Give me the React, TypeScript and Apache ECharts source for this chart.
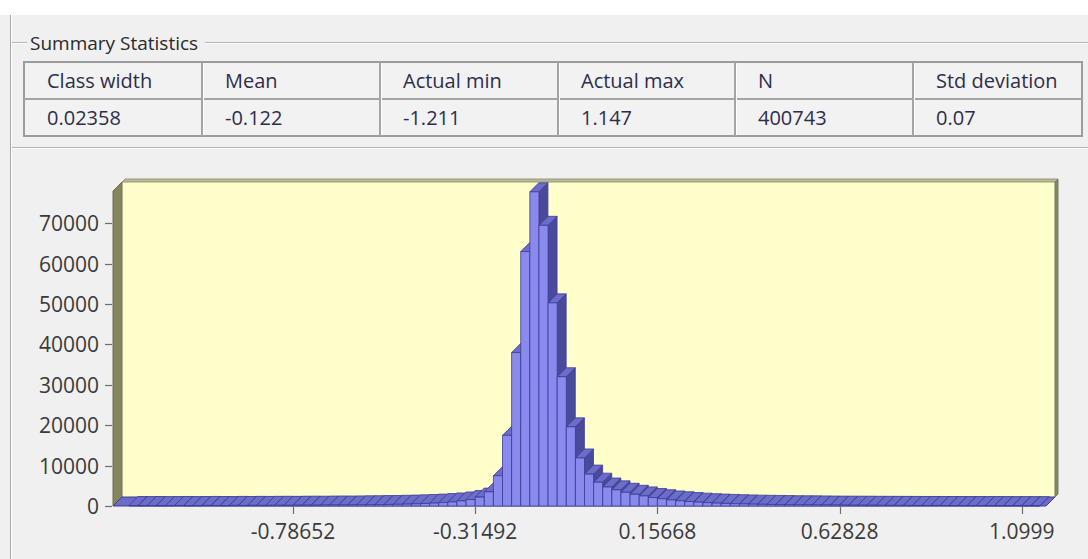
import { useEffect, useRef } from "react";
import * as echarts from "echarts";

// ---------- data ----------
const groupTitle = "Summary Statistics";
const statHeaders = ["Class width", "Mean", "Actual min", "Actual max", "N", "Std deviation"];
const statValues = ["0.02358", "-0.122", "-1.211", "1.147", "400743", "0.07"];

const binStart = -1.211;
const classWidth = 0.02358;
// histogram counts, 100 classes
const leftTail = [
  120, 90, 110, 80, 100, 130, 90, 110, 140, 120,
  100, 150, 130, 160, 140, 170, 180, 160, 190, 210,
  200, 230, 250, 240, 270, 300, 320, 350, 380, 420,
];
const core = [
  470, 540, 620, 720, 850, 1000, 1250, 1600, 2200, 3500,
  7500, 17500, 38000, 63000, 77800, 69500, 50300, 32000, 19600, 11900,
  7900, 5900, 4700, 4000, 3400, 2900, 2500, 2100, 1800, 1500, 1300,
];
const rightTail = [
  1100, 950, 820, 720, 640, 570, 510, 460, 420, 380,
  350, 320, 300, 280, 260, 240, 220, 210, 200, 190,
  180, 170, 160, 150, 140, 135, 130, 125, 120, 115,
  110, 105, 100, 95, 90, 85, 80, 75, 70,
];
const counts = [...leftTail, ...core, ...rightTail];

const xTickLabels = ["-0.78652", "-0.31492", "0.15668", "0.62828", "1.0999"];
const yTickValues = [0, 10000, 20000, 30000, 40000, 50000, 60000, 70000];
const yMax = 78000;
const xMin = -1.2524;
const xMax = 1.1625;

// ---------- layout / style ----------
const GRID = { left: 113, top: 191, width: 933, height: 315 };
const DEPTH = 9;
const TICK_LEN = 7;
const TABLE_X = [24, 202, 380, 558, 735, 913, 1082];
const TABLE_Y = [62, 99, 136];
const FONT = '"Open Sans", "Liberation Sans", Arial, sans-serif';
const FRONT = "#8a8aee";
const SIDE = "#4a4a9c";
const TOP = "#6c6cca";
const EDGE = "#3c3c92";
const TICK = "#6e6e6e";

export default function App() {
  const ref = useRef<HTMLDivElement>(null);

  useEffect(() => {
    if (!ref.current) return;
    const chart = echarts.init(ref.current, undefined, { renderer: "svg" });

    const xTickValues = xTickLabels.map(Number);
    const data = counts.map((c, i) => [
      binStart + i * classWidth,
      binStart + (i + 1) * classWidth,
      c,
    ]);

    const gL = GRID.left;
    const gT = GRID.top;
    const gR = GRID.left + GRID.width;
    const gB = GRID.top + GRID.height;
    const d = DEPTH;

    const graphics: any[] = [];
    graphics.push({ type: "rect", shape: { x: 0, y: 0, width: 1088, height: 15 }, style: { fill: "#ffffff" }, z: -10 });
    graphics.push({ type: "line", shape: { x1: 10.5, y1: 15, x2: 10.5, y2: 559 }, style: { stroke: "#a6a6a6", lineWidth: 1 }, z: -9 });
    graphics.push({ type: "line", shape: { x1: 11.5, y1: 15, x2: 11.5, y2: 559 }, style: { stroke: "#ffffff", lineWidth: 1 }, z: -9 });
    const gbLines = [
      [12, 42.5, 27, 42.5],
      [205, 42.5, 1088, 42.5],
      [12, 147.5, 1088, 147.5],
    ];
    gbLines.forEach(([x1, y1, x2, y2]) => {
      graphics.push({ type: "line", shape: { x1, y1, x2, y2 }, style: { stroke: "#b4b4b4", lineWidth: 1 }, z: -9 });
      graphics.push({ type: "line", shape: { x1, y1: y1 + 1, x2, y2: y2 + 1 }, style: { stroke: "#ffffff", lineWidth: 1 }, z: -9 });
    });
    graphics.push({
      type: "text", x: 30, y: 43,
      style: { text: groupTitle, fontFamily: FONT, fontSize: 19, fill: "#2a2a2a", align: "left", verticalAlign: "middle" },
    });
    graphics.push({
      type: "rect",
      shape: { x: TABLE_X[0], y: TABLE_Y[0], width: TABLE_X[6] - TABLE_X[0], height: TABLE_Y[2] - TABLE_Y[0] },
      style: { fill: "#f2f2f2", stroke: "#9c9c9c", lineWidth: 2 },
    });
    graphics.push({
      type: "line", shape: { x1: TABLE_X[0], y1: TABLE_Y[1], x2: TABLE_X[6], y2: TABLE_Y[1] },
      style: { stroke: "#a4a4a4", lineWidth: 2 },
    });
    for (let i = 1; i < TABLE_X.length - 1; i++) {
      graphics.push({
        type: "line", shape: { x1: TABLE_X[i], y1: TABLE_Y[0], x2: TABLE_X[i], y2: TABLE_Y[2] },
        style: { stroke: "#a4a4a4", lineWidth: 2 },
      });
      graphics.push({
        type: "line", shape: { x1: TABLE_X[i] + 1.5, y1: TABLE_Y[0] + 1, x2: TABLE_X[i] + 1.5, y2: TABLE_Y[2] - 1 },
        style: { stroke: "#ffffff", lineWidth: 1 },
      });
    }
    statHeaders.forEach((h, i) => {
      graphics.push({
        type: "text", x: TABLE_X[i] + 23, y: (TABLE_Y[0] + TABLE_Y[1]) / 2,
        style: { text: h, fontFamily: FONT, fontSize: 20, fill: "#2e2e4c", align: "left", verticalAlign: "middle" },
      });
      graphics.push({
        type: "text", x: TABLE_X[i] + 23, y: (TABLE_Y[1] + TABLE_Y[2]) / 2,
        style: { text: statValues[i], fontFamily: FONT, fontSize: 20, fill: "#2e2e4c", align: "left", verticalAlign: "middle" },
      });
    });
    // chart walls
    graphics.push({
      type: "rect", z: -5,
      shape: { x: gL + d, y: gT - d, width: gR - gL, height: gB - gT },
      style: { fill: "#ffffcc" },
    });
    graphics.push({
      type: "polygon", z: -4,
      shape: { points: [[gL + d, gT - d], [gR + d, gT - d], [gR + d + 3, gT - d - 3], [gL + d + 3, gT - d - 3]] },
      style: { fill: "#b8b898", stroke: "#9a9a78", lineWidth: 1 },
    });
    graphics.push({
      type: "polygon", z: -4,
      shape: { points: [[gR + d, gT - d], [gR + d + 3, gT - d - 3], [gR + d + 3, gB - d - 3], [gR + d, gB - d]] },
      style: { fill: "#85856a", stroke: "#7a7a60", lineWidth: 1 },
    });
    graphics.push({
      type: "polygon", z: -4,
      shape: { points: [[gL, gB], [gL, gT], [gL + d, gT - d], [gL + d, gB - d]] },
      style: { fill: "#85855e", stroke: "#6f6f4c", lineWidth: 1 },
    });
    graphics.push({
      type: "polygon", z: -4,
      shape: { points: [[gL, gB], [gR, gB], [gR + d, gB - d], [gL + d, gB - d]] },
      style: { fill: TOP, stroke: EDGE, lineWidth: 1 },
    });

    const option: any = {
      animation: false,
      backgroundColor: "#f0f0f0",
      grid: { ...GRID, containLabel: false, outerBoundsMode: "none" },
      xAxis: {
        type: "value",
        min: xMin,
        max: xMax,
        axisLine: { show: false, onZero: false },
        splitLine: { show: false },
        axisTick: { show: false },
        axisLabel: {
          customValues: xTickValues,
          margin: 14,
          fontSize: 21,
          fontFamily: FONT,
          color: "#3a3a3a",
          formatter: (v: number) => {
            const i = xTickValues.findIndex((t) => Math.abs(t - v) < 1e-6);
            return i >= 0 ? xTickLabels[i] : "";
          },
        },
      },
      yAxis: {
        type: "value",
        min: 0,
        max: yMax,
        axisLine: { show: false, onZero: false },
        splitLine: { show: false },
        axisTick: { show: false },
        axisLabel: {
          customValues: yTickValues,
          margin: 14,
          fontSize: 21,
          fontFamily: FONT,
          color: "#3a3a3a",
          formatter: (v: number) => String(v),
        },
      },
      series: [
        {
          type: "custom",
          encode: { x: [0, 1], y: 2 },
          data,
          z: 3,
          renderItem: (_params: any, api: any) => {
            const s = api.value(0);
            const e = api.value(1);
            const v = api.value(2);
            const pTop = api.coord([s, v]);
            const pBot = api.coord([e, 0]);
            const x0 = pTop[0];
            const yT = pTop[1];
            const x1 = pBot[0];
            const yB = pBot[1];
            return {
              type: "group",
              children: [
                {
                  type: "polygon",
                  shape: { points: [[x1, yB], [x1 + d, yB - d], [x1 + d, yT - d], [x1, yT]] },
                  style: { fill: SIDE, stroke: EDGE, lineWidth: 0.8 },
                },
                {
                  type: "polygon",
                  shape: { points: [[x0, yT], [x1, yT], [x1 + d, yT - d], [x0 + d, yT - d]] },
                  style: { fill: TOP, stroke: EDGE, lineWidth: 0.8 },
                },
                {
                  type: "rect",
                  shape: { x: x0, y: yT, width: x1 - x0, height: yB - yT },
                  style: { fill: FRONT, stroke: EDGE, lineWidth: 0.8 },
                },
              ],
            };
          },
        },
      ],
    };

    chart.setOption(option);

    // axis ticks placed through the chart's own scales
    const ticks: any[] = [];
    xTickValues.forEach((v) => {
      const px = chart.convertToPixel({ xAxisIndex: 0 }, v) as number;
      const x = Math.round(px) + 0.5;
      ticks.push({
        type: "line", z: 100,
        shape: { x1: x, y1: gB + 1, x2: x, y2: gB + 1 + TICK_LEN },
        style: { stroke: TICK, lineWidth: 1.2 },
      });
    });
    yTickValues.forEach((v) => {
      const py = chart.convertToPixel({ yAxisIndex: 0 }, v) as number;
      const y = Math.round(py) + 0.5;
      ticks.push({
        type: "line", z: 100,
        shape: { x1: gL - TICK_LEN - 1, y1: y, x2: gL - 1, y2: y },
        style: { stroke: TICK, lineWidth: 1.2 },
      });
    });
    chart.setOption({ graphic: [{ elements: [...graphics, ...ticks] }] });

    return () => chart.dispose();
  }, []);

  return (
    <div
      ref={ref}
      style={{ position: "absolute", left: 0, top: 0, width: 1088, height: 559, background: "#f0f0f0" }}
    />
  );
}
